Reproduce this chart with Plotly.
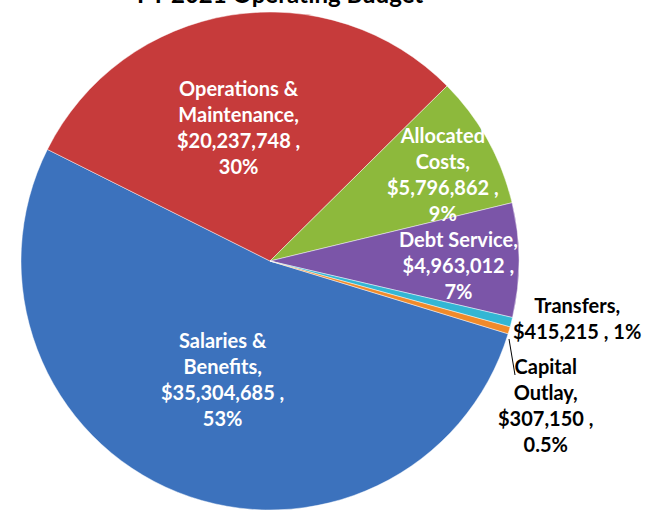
import plotly.graph_objects as go

categories = ["Salaries & Benefits", "Operations & Maintenance", "Allocated Costs",
              "Debt Service", "Transfers", "Capital Outlay"]
values = [35304685, 20237748, 5796862, 4963012, 415215, 307150]
pct_labels = ["53%", "30%", "9%", "7%", "1%", "0.5%"]
colors = ["#3c72bd", "#c63b3b", "#8db93c", "#7b55a8", "#33b6d4", "#f08a2a"]
title_text = "FY 2021 Operating Budget"

W, H = 649, 510

fig = go.Figure()
fig.add_trace(go.Pie(
    labels=categories, values=values, sort=False, direction="clockwise",
    rotation=107, textinfo="none", hoverinfo="label+value+percent",
    marker=dict(colors=colors, line=dict(color="rgba(255,255,255,0.45)", width=1)),
    domain=dict(x=[18 / W, 522 / W], y=[0, (H - 12) / H]),
    showlegend=False,
))

def money(v):
    return "${:,}".format(v)

label_lines = [
    ["Salaries &", "Benefits,", money(values[0]) + " ,", pct_labels[0]],
    ["Operations &", "Maintenance,", money(values[1]) + " ,", pct_labels[1]],
    ["Allocated", "Costs,", money(values[2]) + " ,", pct_labels[2]],
    ["Debt Service,", money(values[3]) + " ,", pct_labels[3]],
    ["Transfers,", money(values[4]) + " , " + pct_labels[4]],
    ["Capital", "Outlay,", money(values[5]) + " ,", pct_labels[5]],
]
label_pos = [(222, 379), (238, 127), (443, 174), (458, 265), (577, 318), (545, 405)]
label_color = ["white", "white", "white", "white", "black", "black"]

FONT = "Lato, Calibri, Carlito, sans-serif"
for lines, (px, py), col in zip(label_lines, label_pos, label_color):
    fig.add_annotation(
        x=px / W, y=1 - py / H, xref="paper", yref="paper",
        text="<br>".join("<b>%s</b>" % s for s in lines),
        showarrow=False, xanchor="center", yanchor="middle", align="center",
        font=dict(family=FONT, size=20, color=col),
    )

fig.add_shape(type="line", xref="paper", yref="paper",
              x0=509 / W, y0=1 - 339 / H, x1=515 / W, y1=1 - 375 / H,
              line=dict(color="black", width=1))

fig.add_annotation(
    x=280 / W, y=1 + 7 / H, xref="paper", yref="paper",
    text="<b>%s</b>" % title_text, showarrow=False,
    xanchor="center", yanchor="middle",
    font=dict(family=FONT, size=24, color="black"),
)

fig.update_layout(
    width=W, height=H, margin=dict(l=0, r=0, t=0, b=0),
    paper_bgcolor="white", plot_bgcolor="white",
)
fig.write_html("out.html", config={"displayModeBar": False},
               post_script="document.body.style.margin='0';document.body.style.overflow='hidden';")
